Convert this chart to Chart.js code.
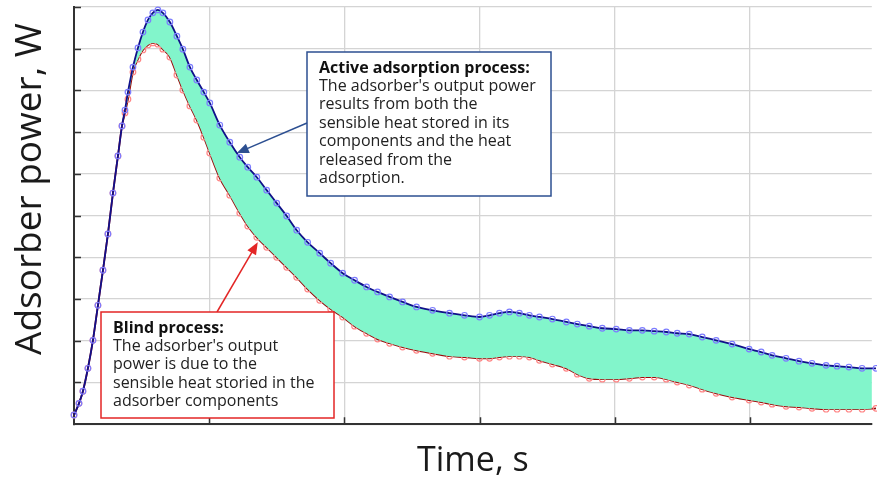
<!DOCTYPE html>
<html>
<head>
<meta charset="utf-8">
<script src="https://cdn.jsdelivr.net/npm/chart.js@4.4.1/dist/chart.umd.min.js"></script>
<style>
  html, body { margin: 0; background: #fff; }
  #wrap { width: 877px; height: 482px; position: relative; }
</style>
</head>
<body>
<div id="wrap"><canvas id="powerChart"></canvas></div>
<script>
// values (time in s, power in W; the original has no tick labels)
const timeS = [0, 37, 66, 103, 140, 177, 214, 251, 288, 325, 355, 377, 399, 436, 473, 510, 547, 583, 620, 657,
    709, 761, 805, 857, 908, 960, 1004, 1078, 1152, 1226, 1285, 1352, 1425, 1499, 1573, 1647, 1728, 1817, 1898, 1987,
    2075, 2164, 2245, 2334, 2430, 2533, 2652, 2777, 2888, 2999, 3073, 3146, 3220, 3294, 3368, 3442, 3538, 3641, 3722, 3811,
    3907, 4010, 4107, 4203, 4291, 4380, 4461, 4550, 4646, 4749, 4867, 4993, 5082, 5163, 5266, 5362, 5458, 5562, 5643, 5731,
    5828, 5931];

const activePower = [22, 50, 79, 134, 201, 285, 369, 456, 554, 643, 715, 753, 796, 856, 902, 940, 969, 986, 993, 986,
    964, 930, 899, 856, 825, 796, 770, 717, 676, 640, 616, 592, 561, 530, 499, 465, 436, 410, 386, 362,
    345, 329, 317, 305, 293, 281, 273, 266, 261, 257, 261, 266, 269, 266, 261, 257, 252, 245, 240, 235,
    230, 228, 225, 225, 223, 221, 218, 216, 209, 201, 192, 180, 173, 165, 158, 151, 146, 141, 139, 137,
    134, 134];

const blindPower = [22, 50, 79, 134, 201, 285, 369, 456, 554, 643, 715, 746, 779, 844, 875, 897, 909, 914, 911, 899,
    880, 837, 801, 763, 729, 688, 650, 590, 549, 506, 475, 448, 424, 400, 376, 352, 324, 297, 276, 257,
    235, 218, 204, 194, 185, 177, 170, 163, 161, 158, 158, 161, 163, 163, 161, 153, 144, 134, 120, 110,
    108, 108, 110, 113, 113, 108, 101, 94, 84, 74, 65, 58, 53, 48, 43, 41, 38, 36, 36, 36,
    36, 38];

const timeTicks = [0, 1000, 2000, 3000, 4000, 5000];
const powerTicks = [0, 100, 200, 300, 400, 500, 600, 700, 800, 900, 1000];

const notes = [
    {
        title: 'Active adsorption process:',
        lines: ["The adsorber's output power", 'results from both the', 'sensible heat stored in its',
            'components and the heat', 'released from the', 'adsorption.'],
        box: [307, 52, 551, 196], color: '#2c4f91', from: [307, 123], tip: [1204, 650]
    },
    {
        title: 'Blind process:',
        lines: ["The adsorber's output", 'power is due to the', 'sensible heat storied in the', 'adsorber components'],
        box: [101, 312, 334, 418], color: '#e32626', from: [217, 312], tip: [1359, 436]
    }
];

const toXY = (ys) => ys.map((y, i) => ({ x: timeS[i], y: y }));

// small dark tick marks pointing into the plot, like the original
const innerTicks = {
    id: 'innerTicks',
    afterDatasetsDraw(chart) {
        const { ctx, chartArea, scales } = chart;
        ctx.save();
        ctx.strokeStyle = '#333';
        ctx.lineWidth = 1.5;
        ctx.beginPath();
        powerTicks.slice(1).forEach(v => {
            const y = Math.round(scales.y.getPixelForValue(v)) + 0.5;
            ctx.moveTo(chartArea.left, y);
            ctx.lineTo(chartArea.left + 7, y);
        });
        timeTicks.slice(1).forEach(v => {
            const x = Math.round(scales.x.getPixelForValue(v)) + 0.5;
            ctx.moveTo(x, chartArea.bottom);
            ctx.lineTo(x, chartArea.bottom - 7);
        });
        ctx.stroke();
        ctx.restore();
    }
};

// y title sits a bit above the middle of the axis in the original
const yTitle = {
    id: 'yTitle',
    afterDraw(chart) {
        const { ctx } = chart;
        ctx.save();
        ctx.translate(30, 189);
        ctx.rotate(-Math.PI / 2);
        ctx.fillStyle = '#1a1a1a';
        ctx.font = '37px "Open Sans"';
        ctx.textAlign = 'center';
        ctx.textBaseline = 'middle';
        ctx.fillText('Adsorber power, W', 0, 0);
        ctx.restore();
    }
};

const callouts = {
    id: 'callouts',
    afterDraw(chart) {
        const { ctx, scales } = chart;
        ctx.save();
        notes.forEach(n => {
            // arrow to the curve
            const tx = scales.x.getPixelForValue(n.tip[0]);
            const ty = scales.y.getPixelForValue(n.tip[1]);
            const ang = Math.atan2(ty - n.from[1], tx - n.from[0]);
            ctx.strokeStyle = n.color;
            ctx.fillStyle = n.color;
            ctx.lineWidth = 1.5;
            ctx.beginPath();
            ctx.moveTo(n.from[0], n.from[1]);
            ctx.lineTo(tx - 8 * Math.cos(ang), ty - 8 * Math.sin(ang));
            ctx.stroke();
            ctx.beginPath();
            ctx.moveTo(tx, ty);
            ctx.lineTo(tx - 12 * Math.cos(ang) + 5 * Math.sin(ang), ty - 12 * Math.sin(ang) - 5 * Math.cos(ang));
            ctx.lineTo(tx - 12 * Math.cos(ang) - 5 * Math.sin(ang), ty - 12 * Math.sin(ang) + 5 * Math.cos(ang));
            ctx.closePath();
            ctx.fill();

            // box
            const [x0, y0, x1, y1] = n.box;
            ctx.fillStyle = '#fff';
            ctx.fillRect(x0, y0, x1 - x0, y1 - y0);
            ctx.lineWidth = 1.5;
            ctx.strokeRect(x0, y0, x1 - x0, y1 - y0);

            ctx.textBaseline = 'middle';
            ctx.textAlign = 'left';
            ctx.fillStyle = '#111';
            ctx.font = 'bold 16px "Open Sans"';
            ctx.fillText(n.title, x0 + 12, y0 + 16);
            ctx.font = '16px "Open Sans"';
            ctx.fillStyle = '#222';
            n.lines.forEach((t, i) => ctx.fillText(t, x0 + 12, y0 + 16 + (i + 1) * 18.4));
        });
        ctx.restore();
    }
};

new Chart(document.getElementById('powerChart'), {
    type: 'line',
    data: {
        datasets: [
            {
                label: 'Active adsorption process',
                data: toXY(activePower),
                borderColor: '#10108a',
                borderWidth: 1.8,
                pointRadius: 2.8,
                pointBorderWidth: 1.2,
                pointBorderColor: '#7c7cff',
                pointBackgroundColor: 'rgba(0,0,0,0)',
                cubicInterpolationMode: 'monotone',
                clip: false,
                fill: { target: 1, above: '#82f5cb', below: '#82f5cb' }
            },
            {
                label: 'Blind process',
                data: toXY(blindPower),
                borderColor: '#9a0a0a',
                borderWidth: 1.8,
                pointRadius: 2.8,
                pointBorderWidth: 1.2,
                pointBorderColor: '#ff8585',
                pointBackgroundColor: 'rgba(0,0,0,0)',
                cubicInterpolationMode: 'monotone',
                clip: false,
                fill: false
            }
        ]
    },
    options: {
        responsive: true,
        maintainAspectRatio: false,
        animation: false,
        layout: { padding: { top: 7, right: 0, bottom: 0, left: 74 } },
        plugins: {
            legend: { display: false },
            tooltip: { enabled: false }
        },
        scales: {
            x: {
                type: 'linear',
                min: 0,
                max: 5900,
                afterBuildTicks: s => { s.ticks = timeTicks.map(v => ({ value: v })); },
                ticks: { display: false },
                grid: { color: '#d4d4d4', lineWidth: 1.3, drawTicks: false },
                border: { color: '#333', width: 2 },
                title: {
                    display: true,
                    text: 'Time, s',
                    color: '#1a1a1a',
                    font: { family: 'Open Sans', size: 34 },
                    padding: { top: 17, bottom: 0 }
                }
            },
            y: {
                min: 0,
                max: 1000,
                afterBuildTicks: s => { s.ticks = powerTicks.map(v => ({ value: v })); },
                ticks: { display: false },
                grid: { color: '#d4d4d4', lineWidth: 1.3, drawTicks: false },
                border: { color: '#333', width: 2 },
                title: { display: false }
            }
        }
    },
    plugins: [innerTicks, yTitle, callouts]
});
</script>
</body>
</html>
